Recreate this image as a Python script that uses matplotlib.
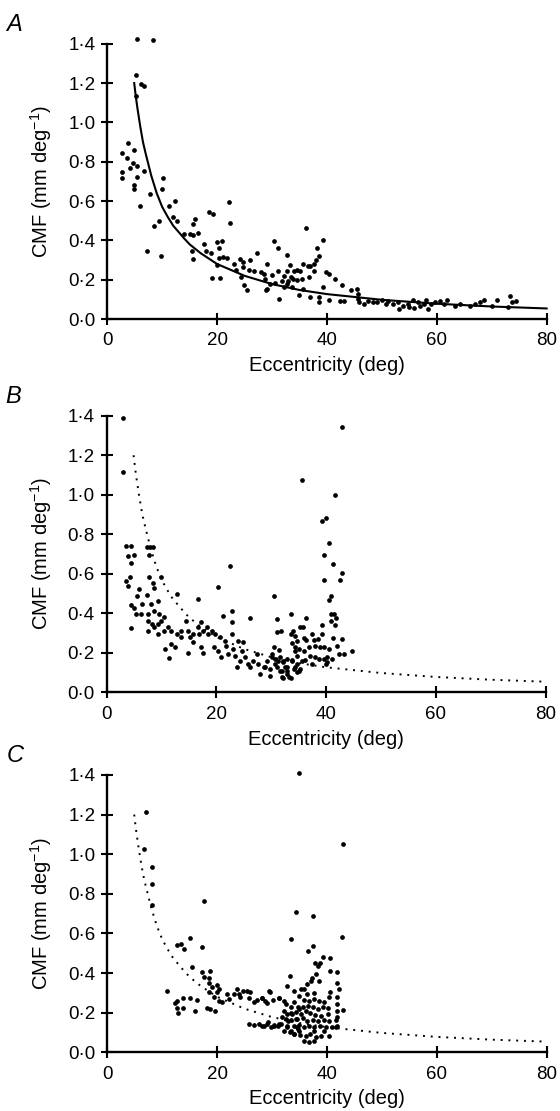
import matplotlib
matplotlib.use("Agg")
import matplotlib.pyplot as plt

plt.rcParams['font.family'] = ['Liberation Sans', 'DejaVu Sans']
plt.rcParams['mathtext.fontset'] = 'custom'
plt.rcParams['mathtext.rm'] = 'Liberation Sans'
plt.rcParams['mathtext.it'] = 'Liberation Sans:italic'

# fitted curve
FIT_ECC = [4.9, 5.2, 5.5, 6, 6.5, 7, 7.5, 8, 9, 10, 11, 12, 14, 15, 17, 20, 25, 30, 35, 40, 50, 60, 70, 80]
FIT_CMF = [1.20, 1.13, 1.07, 0.98, 0.90, 0.84, 0.785, 0.73, 0.64, 0.57, 0.52, 0.475, 0.41, 0.38, 0.335, 0.28,
           0.22, 0.178, 0.148, 0.127, 0.098, 0.078, 0.064, 0.054]

# panel A
A_ECC = [5.4, 8.4, 5.2, 6.2, 6.6, 5.2, 3.8, 2.6, 4.8, 3.5, 4.6, 5.5, 4.1, 2.6, 2.6, 6.6, 5.5, 4.9, 4.9, 5.9,
         7.8, 10.1, 9.9, 8.5, 9.4, 7.2, 9.8, 11.2, 12.4, 11.9, 12.7, 13.9, 15.0, 15.6, 16.0, 15.6, 16.6, 15.4,
         15.6, 17.7, 18.0, 18.9, 18.6, 19.3, 20.0, 20.9, 20.4, 20.3, 21.1, 21.8, 19.0, 20.5, 20.0, 22.2, 22.4,
         23.0, 23.4, 24.1, 24.7, 24.7, 24.3, 24.9, 25.5, 26.0, 25.8, 26.8, 27.3, 27.9, 28.7, 29.0, 29.1, 30.0,
         30.5, 30.3, 31.0, 31.3, 31.9, 32.7, 32.8, 32.2, 32.9, 33.3, 34.0, 33.9, 34.6, 34.9,
         31.0, 32.1, 33.5, 32.8, 33.7, 28.5, 29.7, 28.9, 34.5,
         36.1, 39.2, 38.1, 38.6, 38.0, 37.7, 35.7, 36.6, 37.0, 35.1, 37.7, 39.8, 40.4, 35.5, 36.8, 41.4, 35.7,
         39.2, 42.7, 44.4, 45.5, 36.9, 38.6, 38.6, 40.4, 42.4, 43.1, 45.6, 45.6, 45.9, 46.8, 47.4, 48.3, 49.2,
         50.1, 50.8, 51.1, 52.0, 52.9, 53.2, 53.8, 54.7, 55.0, 55.6, 55.9, 56.5, 57.0, 57.6, 58.1, 58.4, 59.0,
         59.6, 60.5, 61.3, 61.9, 63.3, 64.2, 66.0, 66.9, 67.8, 68.6, 70.0, 70.9, 73.0, 73.3, 73.7, 74.5]
A_CMF = [1.425, 1.417, 1.239, 1.196, 1.185, 1.134, 0.897, 0.844, 0.858, 0.817, 0.795, 0.776, 0.770, 0.747,
         0.719, 0.753, 0.722, 0.683, 0.663, 0.575, 0.634, 0.717, 0.661, 0.471, 0.498, 0.346, 0.319, 0.573,
         0.600, 0.519, 0.498, 0.431, 0.434, 0.481, 0.507, 0.429, 0.437, 0.344, 0.307, 0.383, 0.344, 0.336,
         0.544, 0.536, 0.392, 0.397, 0.363, 0.310, 0.315, 0.310, 0.208, 0.208, 0.273, 0.597, 0.488, 0.281,
         0.251, 0.303, 0.290, 0.264, 0.214, 0.171, 0.146, 0.298, 0.251, 0.244, 0.336, 0.239, 0.205, 0.154,
         0.281, 0.225, 0.185, 0.397, 0.363, 0.103, 0.193, 0.324, 0.244, 0.163, 0.193, 0.273, 0.247, 0.205,
         0.251, 0.120,
         0.247, 0.217, 0.214, 0.176, 0.163, 0.231, 0.180, 0.149, 0.197,
         0.461, 0.400, 0.363, 0.319, 0.298, 0.281, 0.281, 0.271, 0.268, 0.244, 0.247, 0.239, 0.227, 0.205,
         0.214, 0.205, 0.154, 0.163, 0.171, 0.149, 0.154, 0.112, 0.112, 0.086, 0.098, 0.092, 0.092, 0.129,
         0.103, 0.086, 0.078, 0.092, 0.086, 0.086, 0.095, 0.078, 0.092, 0.075, 0.086, 0.053, 0.069, 0.078,
         0.061, 0.098, 0.058, 0.086, 0.064, 0.075, 0.095, 0.053, 0.078, 0.086, 0.092, 0.078, 0.098, 0.069,
         0.075, 0.069, 0.078, 0.086, 0.098, 0.064, 0.098, 0.061, 0.115, 0.086, 0.092]

# panel B
B_ECC = [2.9, 2.9, 3.5, 4.4, 3.8, 4.9, 4.5, 3.5, 3.9, 4.3, 4.5, 4.9, 4.5, 5.3, 5.5, 5.9, 6.2, 6.5, 7.3, 7.3,
         7.9, 8.5, 7.8, 7.8, 8.5, 8.6, 8.1, 9.3, 7.5, 7.5, 8.6, 9.9, 9.6, 7.5, 8.2, 8.7, 9.3, 9.9, 10.5, 10.4,
         11.1, 11.7, 9.4, 10.6, 11.4, 11.7, 12.4, 12.9, 12.9, 13.6, 13.6, 14.5, 14.8, 15.1, 14.8, 15.7, 15.7,
         16.6, 16.6, 16.9, 17.2, 17.6, 17.6, 17.1, 18.2, 18.5, 19.1, 19.7, 19.6, 20.3, 20.3, 20.6, 20.9, 21.2,
         21.5, 21.8, 22.1, 22.4, 22.8, 22.8, 22.9, 23.1, 23.4, 23.7, 24.0, 24.3, 24.6, 24.9, 25.2, 25.8, 26.1,
         26.1, 26.7, 27.3, 27.6, 27.9, 28.6, 29.2, 29.8, 30.1, 30.4, 30.4, 30.7, 31.0, 31.0, 31.3, 31.6, 31.9,
         32.2, 32.5, 32.8, 33.2, 33.5, 33.6, 33.9, 34.4, 34.7, 33.8, 34.3, 35.0, 35.3,
         42.9, 35.6, 41.6, 39.3, 39.9, 40.6, 39.6, 41.2, 42.9, 39.6, 42.6, 40.8, 40.6, 40.8, 41.4, 41.8, 40.8,
         41.6, 31.7, 36.3, 34.4, 34.7, 35.9, 36.3, 37.4, 37.7, 38.5, 39.3, 41.3, 42.9, 31.4, 33.8, 34.4, 35.0,
         35.9, 36.8, 38.0, 38.8, 39.6, 40.5, 42.0, 44.7, 43.2, 42.3, 30.1, 30.7, 31.6, 32.2, 32.8, 33.8, 34.7,
         35.6, 36.2, 37.1, 38.0, 38.6, 39.6, 40.2, 41.1, 39.9, 40.2, 37.4, 28.9, 31.0, 31.9, 32.2, 32.8, 33.5,
         34.1, 34.7, 35.3, 29.8, 32.8, 35.7, 39.3]
B_CMF = [1.388, 1.113, 0.742, 0.742, 0.691, 0.696, 0.653, 0.565, 0.538, 0.582, 0.444, 0.427, 0.324, 0.396,
         0.489, 0.523, 0.396, 0.447, 0.491, 0.734, 0.734, 0.734, 0.696, 0.582, 0.556, 0.526, 0.447, 0.464,
         0.396, 0.363, 0.413, 0.585, 0.396, 0.312, 0.346, 0.329, 0.346, 0.363, 0.379, 0.312, 0.329, 0.312,
         0.295, 0.219, 0.174, 0.245, 0.228, 0.497, 0.295, 0.312, 0.278, 0.363, 0.312, 0.278, 0.199, 0.295,
         0.253, 0.472, 0.329, 0.295, 0.354, 0.312, 0.199, 0.231, 0.329, 0.295, 0.312, 0.295, 0.228, 0.535,
         0.207, 0.278, 0.177, 0.388, 0.261, 0.236, 0.194, 0.641, 0.413, 0.354, 0.295, 0.219, 0.185, 0.126,
         0.261, 0.160, 0.211, 0.253, 0.177, 0.143, 0.376, 0.126, 0.160, 0.194, 0.143, 0.093, 0.126, 0.160,
         0.084, 0.177, 0.489, 0.228, 0.143, 0.371, 0.304, 0.160, 0.110, 0.076, 0.152, 0.126, 0.093, 0.076,
         0.396, 0.295, 0.312, 0.228, 0.185, 0.160, 0.126, 0.110, 0.329,
         1.341, 1.074, 1.000, 0.865, 0.882, 0.755, 0.695, 0.649, 0.604, 0.568, 0.568, 0.489, 0.467, 0.396,
         0.396, 0.376, 0.359, 0.342, 0.312, 0.376, 0.287, 0.261, 0.275, 0.265, 0.295, 0.265, 0.268, 0.295,
         0.275, 0.268, 0.214, 0.248, 0.211, 0.219, 0.211, 0.228, 0.236, 0.228, 0.231, 0.219, 0.236, 0.207,
         0.194, 0.194, 0.194, 0.169, 0.177, 0.160, 0.169, 0.164, 0.143, 0.160, 0.164, 0.185, 0.177, 0.169,
         0.169, 0.177, 0.169, 0.143, 0.152, 0.143, 0.126, 0.126, 0.110, 0.071, 0.110, 0.071, 0.118, 0.101,
         0.118, 0.118, 0.126, 0.332, 0.341]

# panel C
C_ECC = [7.0, 6.7, 8.1, 8.1, 8.1, 17.6, 15.0, 12.7, 13.4, 14.0, 17.3, 15.4, 17.3, 18.7, 17.6, 18.5, 18.5,
         20.0, 19.1, 20.3, 10.9, 18.5, 20.0, 19.5, 12.7, 13.8, 15.1, 16.3, 12.4, 20.3, 20.9, 21.8, 22.1, 23.0,
         23.7, 24.0, 24.1, 24.8, 25.4, 26.0, 25.8, 26.7, 27.3, 28.2, 28.8, 29.5, 30.2, 31.3, 32.2, 32.7, 33.3,
         33.5, 34.0, 34.3, 34.9, 12.7, 13.8, 16.0, 12.8, 18.2, 18.7, 19.7, 25.8, 26.7, 27.6, 28.5, 29.1, 29.8,
         30.4, 31.3, 31.9, 32.2, 32.7, 32.9, 33.4, 33.7, 34.0, 34.3, 34.6, 34.9, 33.4, 34.0, 32.8,
         43.0, 37.5, 42.7, 37.5, 36.6, 39.2, 40.6, 37.8, 38.3, 38.7, 40.5, 41.8, 38.0, 37.2, 37.1, 38.6,
         41.8, 36.4, 35.2, 35.9, 36.4, 37.7, 42.2, 40.6, 40.4, 29.6, 29.0, 31.3, 32.5, 35.0, 35.9, 36.7, 37.7,
         38.6, 39.4, 41.8, 41.8, 34.7, 35.6, 36.5, 37.4, 38.3, 39.2, 40.1, 43.0, 41.8, 33.4, 34.3, 35.2, 36.1,
         37.0, 37.9, 38.9, 40.1, 41.9, 32.5, 33.4, 34.6, 35.7, 36.4, 37.4, 38.3, 39.5, 40.4, 41.6, 31.7, 32.8,
         34.0, 34.9, 35.8, 36.7, 37.7, 38.8, 39.8, 41.0, 41.9, 29.3, 30.4, 31.0, 28.2, 32.2, 33.3, 34.0, 35.1,
         36.1, 37.0, 38.0, 38.9, 40.4, 35.9, 36.7, 37.7, 34.9, 37.7, 39.5, 41.6, 34.7, 28.2]
C_CMF = [1.215, 1.024, 0.934, 0.850, 0.744, 0.766, 0.576, 0.544, 0.547, 0.519, 0.530, 0.433, 0.404, 0.412,
         0.379, 0.375, 0.348, 0.342, 0.328, 0.320, 0.311, 0.303, 0.303, 0.278, 0.261, 0.274, 0.274, 0.266,
         0.247, 0.261, 0.253, 0.295, 0.269, 0.295, 0.318, 0.295, 0.278, 0.311, 0.311, 0.306, 0.274, 0.253,
         0.264, 0.273, 0.261, 0.311, 0.264, 0.274, 0.261, 0.337, 0.387, 0.572, 0.308, 0.707, 1.409, 0.224,
         0.224, 0.207, 0.199, 0.224, 0.219, 0.207, 0.143, 0.140, 0.143, 0.135, 0.143, 0.126, 0.135, 0.143,
         0.177, 0.210, 0.194, 0.160, 0.227, 0.194, 0.253, 0.168, 0.126, 0.219, 0.109, 0.093, 0.126,
         1.049, 0.690, 0.581, 0.535, 0.510, 0.483, 0.475, 0.449, 0.438, 0.449, 0.412, 0.404, 0.396, 0.375,
         0.362, 0.362, 0.348, 0.345, 0.320, 0.320, 0.295, 0.298, 0.320, 0.303, 0.281, 0.303, 0.247, 0.274,
         0.244, 0.286, 0.264, 0.261, 0.269, 0.261, 0.253, 0.278, 0.244, 0.227, 0.231, 0.236, 0.227, 0.219,
         0.227, 0.224, 0.214, 0.207, 0.197, 0.202, 0.194, 0.207, 0.197, 0.190, 0.185, 0.194, 0.177, 0.168,
         0.163, 0.168, 0.173, 0.160, 0.163, 0.160, 0.163, 0.157, 0.163, 0.143, 0.135, 0.135, 0.140, 0.126,
         0.135, 0.126, 0.135, 0.126, 0.130, 0.135, 0.152, 0.140, 0.135, 0.135, 0.109, 0.101, 0.093, 0.089,
         0.084, 0.093, 0.079, 0.084, 0.084, 0.059, 0.051, 0.059, 0.109, 0.106, 0.106, 0.126, 0.118, 0.274]

X_TICKS = [0, 20, 40, 60, 80]
Y_TICKS = [0.0, 0.2, 0.4, 0.6, 0.8, 1.0, 1.2, 1.4]
Y_TICK_LABELS = ['0·0', '0·2', '0·4', '0·6', '0·8', '1·0', '1·2', '1·4']

panels = [
    ('A', A_ECC, A_CMF, '-', [0.1916, 0.7128, 0.7845, 0.2478]),
    ('B', B_ECC, B_CMF, (0, (1, 3)), [0.1905, 0.3768, 0.7840, 0.2490]),
    ('C', C_ECC, C_CMF, (0, (1, 3)), [0.1916, 0.0528, 0.7845, 0.2497]),
]

fig = plt.figure(figsize=(5.6, 11.11), dpi=100)

for letra, ecc, cmf, estilo, pos in panels:
    ax = fig.add_axes(pos)
    lw = 1.5 if estilo == '-' else 1.4
    ax.plot(FIT_ECC, FIT_CMF, color='black', lw=lw, linestyle=estilo, clip_on=False)
    ax.plot(ecc, cmf, 'o', color='black', markersize=3.4, markeredgewidth=0, clip_on=False)

    ax.set_xlim(0, 80)
    ax.set_ylim(0, 1.4)
    ax.set_xticks(X_TICKS)
    ax.set_yticks(Y_TICKS)
    ax.set_yticklabels(Y_TICK_LABELS)
    for s in ('top', 'right'):
        ax.spines[s].set_visible(False)
    for s in ('left', 'bottom'):
        ax.spines[s].set_linewidth(1.7)
    ax.tick_params(direction='inout', length=9, width=1.5, labelsize=13.5, pad=4)
    ax.tick_params(axis='x', pad=5)
    ax.set_xlabel('Eccentricity (deg)', fontsize=14.5, labelpad=5)
    ax.set_ylabel(r'CMF (mm deg$^{-1}$)', fontsize=14.5, labelpad=10)
    ax.text(-0.23, 1.07, letra, transform=ax.transAxes, fontsize=17, style='italic',
            ha='left', va='center')

fig.savefig('out.png', dpi=100)
